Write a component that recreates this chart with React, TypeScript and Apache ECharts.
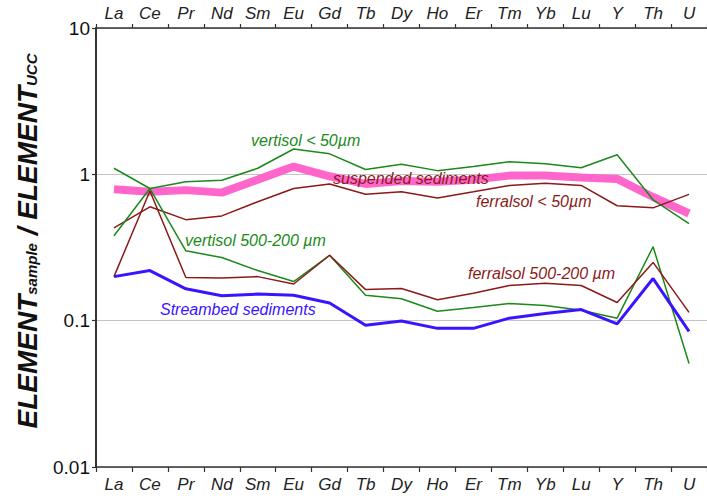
import React, { useEffect, useRef } from "react";
import * as echarts from "echarts";

const categories = ["La", "Ce", "Pr", "Nd", "Sm", "Eu", "Gd", "Tb", "Dy", "Ho", "Er", "Tm", "Yb", "Lu", "Y", "Th", "U"];
const suspended = [0.79, 0.76, 0.78, 0.75, 0.92, 1.13, 0.97, 0.86, 0.9, 0.89, 0.92, 0.98, 0.98, 0.95, 0.93, 0.7, 0.54];
const vertisolFine = [1.1, 0.8, 0.89, 0.91, 1.1, 1.49, 1.38, 1.08, 1.17, 1.06, 1.13, 1.22, 1.18, 1.11, 1.36, 0.67, 0.46];
const ferralsolFine = [0.43, 0.6, 0.49, 0.52, 0.65, 0.8, 0.86, 0.73, 0.76, 0.69, 0.76, 0.84, 0.87, 0.84, 0.61, 0.59, 0.73];
const vertisolCoarse = [0.38, 0.8, 0.3, 0.27, 0.22, 0.185, 0.28, 0.149, 0.141, 0.116, 0.123, 0.131, 0.127, 0.118, 0.104, 0.32, 0.051];
const ferralsolCoarse = [0.2, 0.77, 0.197, 0.196, 0.2, 0.178, 0.28, 0.163, 0.166, 0.139, 0.154, 0.174, 0.18, 0.174, 0.133, 0.25, 0.114];
const streambed = [0.2, 0.22, 0.165, 0.148, 0.152, 0.149, 0.132, 0.093, 0.0996, 0.0886, 0.0886, 0.104, 0.112, 0.119, 0.095, 0.194, 0.0844];
const yTickLabels: Record<string, string> = { "0.01": "0.01", "0.1": "0.1", "1": "1", "10": "10" };

const FONT = "Liberation Sans, Arial, sans-serif";
const GREEN = "#1a8a1a";
const RED = "#8b1a1a";
const BLUE = "#3a14ff";
const PINK = "#ff66cc";

export default function App() {
  const ref = useRef<HTMLDivElement>(null);
  useEffect(() => {
    if (!ref.current) return;
    const chart = echarts.init(ref.current, undefined, { renderer: "svg" });
    const catLabel = {
      fontSize: 17,
      fontStyle: "italic" as const,
      fontFamily: FONT,
      color: "#222",
    };
    const ann = (text: string, x: number, y: number, color: string) => ({
      type: "text",
      x,
      y,
      z: 100,
      style: {
        text,
        fill: color,
        font: `italic 16px ${FONT}`,
        verticalAlign: "middle",
      },
    });
    const line = (name: string, data: number[], color: string, width: number, z: number) => ({
      name,
      type: "line",
      data,
      symbol: "none",
      z,
      lineStyle: { color, width },
      itemStyle: { color },
    });
    chart.setOption({
      animation: false,
      grid: { left: 96, right: -5, top: 28, bottom: 31 },
      xAxis: [
        {
          type: "category",
          data: categories,
          position: "bottom",
          boundaryGap: true,
          axisLine: { show: true, lineStyle: { color: "#333", width: 1.5 } },
          axisTick: { show: true, length: 5, lineStyle: { color: "#333", width: 1.2 } },
          axisLabel: { ...catLabel, margin: 9 },
          splitLine: { show: false },
        },
        {
          type: "category",
          data: categories,
          position: "top",
          boundaryGap: true,
          axisLine: { show: true, lineStyle: { color: "#333", width: 1.5 } },
          axisTick: { show: true, length: 4, lineStyle: { color: "#333", width: 1.2 } },
          axisLabel: { ...catLabel, margin: 6 },
          splitLine: { show: false },
        },
      ],
      yAxis: {
        type: "log",
        logBase: 10,
        min: 0.01,
        max: 10,
        axisLine: { show: true, lineStyle: { color: "#333", width: 2 } },
        axisTick: { show: true, length: 4, lineStyle: { color: "#333", width: 1.2 } },
        axisLabel: {
          fontSize: 19,
          fontFamily: FONT,
          color: "#111",
          margin: 6,
          formatter: (v: number) => yTickLabels[String(v)] ?? String(v),
        },
        splitLine: { show: true, lineStyle: { color: "#c4c4c4", width: 1 } },
      },
      series: [
        line("suspended sediments", suspended, PINK, 8, 1),
        line("vertisol < 50µm", vertisolFine, GREEN, 1.5, 3),
        line("ferralsol < 50µm", ferralsolFine, RED, 1.5, 3),
        line("vertisol 500-200 µm", vertisolCoarse, GREEN, 1.5, 3),
        line("ferralsol 500-200 µm", ferralsolCoarse, RED, 1.5, 3),
        line("Streambed sediments", streambed, BLUE, 3, 4),
      ],
      graphic: [
        ann("vertisol < 50µm", 251, 140, GREEN),
        ann("suspended sediments", 333, 178, RED),
        ann("ferralsol < 50µm", 476, 201, RED),
        ann("vertisol 500-200 µm", 185, 240, GREEN),
        ann("ferralsol 500-200 µm", 468, 273, RED),
        ann("Streambed sediments", 160, 309, BLUE),
        {
          type: "text",
          x: 26,
          y: 241,
          rotation: Math.PI / 2,
          z: 100,
          style: {
            text: "{a|ELEMENT}{b|sample}{a| / ELEMENT}{b|UCC}",
            align: "center",
            verticalAlign: "middle",
            fill: "#111",
            rich: {
              a: {
                fontSize: 28,
                fontWeight: "bold",
                fontStyle: "italic",
                fontFamily: FONT,
                lineHeight: 26,
                verticalAlign: "top",
                fill: "#111",
              },
              b: {
                fontSize: 15,
                fontWeight: "bold",
                fontStyle: "italic",
                fontFamily: FONT,
                lineHeight: 15,
                verticalAlign: "bottom",
                fill: "#111",
              },
            },
          },
        },
      ],
    });
    return () => chart.dispose();
  }, []);
  return <div ref={ref} style={{ width: 707, height: 498, position: "absolute", left: 0, top: 0 }} />;
}
